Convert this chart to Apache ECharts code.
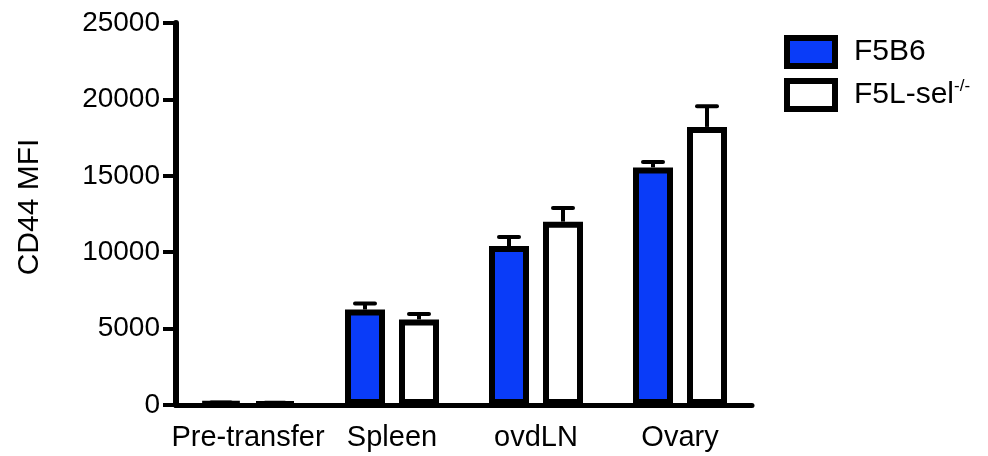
<!DOCTYPE html>
<html>
<head>
<meta charset="utf-8">
<script src="https://cdn.jsdelivr.net/npm/echarts@6/dist/echarts.min.js"></script>
<style>
  html, body { margin: 0; padding: 0; background: #fff; }
  #chart { width: 988px; height: 456px; }
</style>
</head>
<body>
<div id="chart"></div>
<script>
// CD44 MFI per tissue, mean with upward SEM bars
const categories = ['Pre-transfer', 'Spleen', 'ovdLN', 'Ovary'];
const seriesNames = ['F5B6', 'F5L-sel'];
const f5b6Values = [150, 6250, 10400, 15550];
const f5b6Errors = [20, 400, 600, 350];
const f5lselValues = [130, 5600, 12000, 18200];
const f5lselErrors = [20, 350, 900, 1350];
const yTicks = [0, 5000, 10000, 15000, 20000, 25000];

const FONT = '"Liberation Sans", Arial, Helvetica, sans-serif';
const BAR_W = 40;
const BAR_GAP = 0.35;
const STROKE = 6;

// horizontal offset of each bar in a group, same arithmetic as barWidth/barGap
function barOffset(idx) {
  const total = 2 * BAR_W + BAR_GAP * BAR_W;
  return -total / 2 + BAR_W / 2 + idx * (BAR_W + BAR_GAP * BAR_W);
}

function errorSeries(idx, values, errors) {
  return {
    type: 'custom',
    name: seriesNames[idx] + '-err',
    z: 5,
    silent: true,
    data: values.map((v, i) => [i, v, errors[i]]),
    renderItem(params, api) {
      const c = api.value(0);
      const base = api.coord([c, api.value(1)]);
      const top = api.coord([c, api.value(1) + api.value(2)]);
      const x = base[0] + barOffset(idx);
      const capHalf = 10;
      return {
        type: 'group',
        children: [
          { type: 'line', shape: { x1: x, y1: base[1], x2: x, y2: top[1] },
            style: { stroke: '#000', lineWidth: 4 } },
          { type: 'line', shape: { x1: x - capHalf, y1: top[1], x2: x + capHalf, y2: top[1] },
            style: { stroke: '#000', lineWidth: 4, lineCap: 'round' } }
        ]
      };
    }
  };
}

const chart = echarts.init(document.getElementById('chart'), null, { renderer: 'canvas' });
chart.setOption({
  animation: false,
  backgroundColor: '#fff',
  grid: { left: 176, right: 236, top: 23, bottom: 51 },
  legend: {
    data: seriesNames,
    orient: 'vertical',
    left: 779,
    top: 30,
    itemWidth: 48,
    itemHeight: 28,
    itemGap: 9,
    icon: 'rect',
    itemStyle: { borderColor: '#000', borderWidth: STROKE },
    formatter: name => name === 'F5L-sel' ? '{a|F5L-sel}{s|-/-}' : '{a|' + name + '}',
    textStyle: {
      padding: [0, 0, 0, 14],
      rich: {
        a: { fontFamily: FONT, fontSize: 30, color: '#000', lineHeight: 34 },
        s: { fontFamily: FONT, fontSize: 17, color: '#000', verticalAlign: 'top', lineHeight: 34, padding: [0, 0, 12, 0] }
      }
    }
  },
  xAxis: {
    type: 'category',
    data: categories,
    axisLine: { lineStyle: { color: '#000', width: 5 } },
    axisTick: { alignWithLabel: true, length: 12, lineStyle: { color: '#000', width: 4 } },
    axisLabel: { color: '#000', fontFamily: FONT, fontSize: 29, margin: 18, interval: 0 }
  },
  yAxis: {
    type: 'value',
    min: yTicks[0],
    max: yTicks[yTicks.length - 1],
    interval: yTicks[1] - yTicks[0],
    name: 'CD44 MFI',
    nameLocation: 'middle',
    nameGap: 131,
    nameTextStyle: { color: '#000', fontFamily: FONT, fontSize: 30, padding: [0, 0, 0, 14] },
    axisLine: { show: true, lineStyle: { color: '#000', width: 6 } },
    axisTick: { show: true, length: 13, lineStyle: { color: '#000', width: 4 } },
    axisLabel: { color: '#000', fontFamily: FONT, fontSize: 28, margin: 16, formatter: v => String(v) },
    splitLine: { show: false }
  },
  series: [
    {
      type: 'bar',
      name: seriesNames[0],
      data: f5b6Values,
      barWidth: BAR_W,
      barGap: (BAR_GAP * 100) + '%',
      itemStyle: { color: '#0a3cf8', borderColor: '#000', borderWidth: STROKE },
      z: 3
    },
    {
      type: 'bar',
      name: seriesNames[1],
      data: f5lselValues,
      barWidth: BAR_W,
      itemStyle: { color: '#fff', borderColor: '#000', borderWidth: STROKE },
      z: 3
    },
    errorSeries(0, f5b6Values, f5b6Errors),
    errorSeries(1, f5lselValues, f5lselErrors)
  ]
});
</script>
</body>
</html>
